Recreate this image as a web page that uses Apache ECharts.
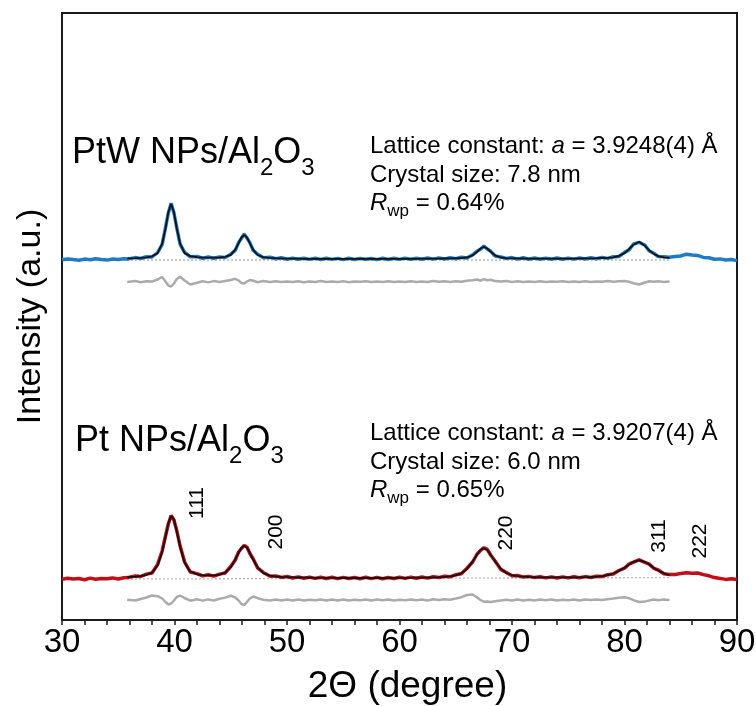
<!DOCTYPE html>
<html>
<head>
<meta charset="utf-8">
<script src="https://cdn.jsdelivr.net/npm/echarts@6/dist/echarts.min.js"></script>
<style>
  html, body { margin: 0; padding: 0; background: #fff; }
  #chart { width: 756px; height: 706px; }
</style>
</head>
<body>
<div id="chart"></div>
<script>
var FONT = 'Liberation Sans, Arial, sans-serif';

// 2theta grid (degree), shared by every pattern
var twoTheta = [30, 30.5, 31, 31.5, 32, 32.5, 33, 33.5, 34, 34.5, 35, 35.5, 35.8, 36.5, 37, 37.5, 38, 38.5,
  38.9, 39.2, 39.45, 39.7, 39.95, 40.2, 40.5, 40.9, 41.4, 42,
  42.5, 43, 43.5, 44, 44.5, 45,
  45.4, 45.7, 45.95, 46.2, 46.45, 46.7, 47, 47.4, 47.9, 48.5,
  49, 49.5, 50, 50.5, 51, 51.5, 52, 52.5, 53, 53.5, 54, 54.5, 55, 55.5, 56, 56.5, 57, 57.5, 58, 58.5,
  59, 59.5, 60, 60.5, 61, 61.5, 62, 62.5, 63, 63.5, 64, 64.5, 65, 65.5, 66, 66.5,
  66.9, 67.2, 67.5, 67.8, 68.1, 68.5, 69,
  69.5, 70, 70.5, 71, 71.5, 72, 72.5, 73, 73.5, 74, 74.5, 75, 75.5, 76, 76.5, 77, 77.5, 78, 78.5, 79, 79.5,
  80, 80.4, 80.8, 81.3, 81.8, 82.2, 82.6, 83, 83.5, 84,
  84.5, 85, 85.5, 86, 86.5, 87, 87.5, 88, 88.5, 89, 89.5, 90];

// PtW NPs/Al2O3 (upper pattern, offset)
var ptwObs = [360.2, 361.1, 360.4, 359.8, 360.9, 360.3, 361.2, 360.5, 359.9, 361.0, 360.6, 361.3, 360.9, 362.4, 361.5, 363.2, 363.0, 367.5,
  375.4, 392.3, 406.9, 416.8, 407.0, 392.4, 375.6, 367.6, 363.2, 363.5,
  361.8, 363.0, 361.7, 363.1, 362.6, 365.8,
  369.6, 377.5, 381.8, 385.9, 381.7, 377.4, 369.5, 365.7, 362.2, 362.8,
  361.2, 362.3, 360.8, 361.9, 360.7, 361.8, 360.6, 361.7, 360.5, 361.8, 360.6, 361.6, 360.4, 361.7, 360.5, 361.6, 360.7, 361.5,
  360.4, 361.8, 360.5, 361.7, 360.6, 361.9, 360.7, 361.8, 360.8, 362.0, 360.9, 362.1, 361.0, 362.2, 361.3, 362.7, 362.0, 365.2,
  368.9, 370.8, 373.9, 371.0, 368.9, 364.0, 363.1,
  361.5, 362.4, 360.9, 362.2, 360.8, 362.0, 360.7, 361.9, 360.8, 362.0, 360.7, 361.9, 360.9, 362.1, 361.0, 362.3, 361.2, 362.6, 361.6, 363.2, 363.5,
  367.6, 370.1, 376.0, 377.6, 375.0, 369.0, 366.8, 363.4, 363.2, 362.8,
  363.6, 364.0, 365.8, 364.9, 364.6, 362.6, 362.3, 360.8, 361.1, 360.0, 360.5, 359.4];

var ptwFit = [null, null, null, null, null, null, null, null, null, null, null, null, 361.6, 361.8, 362.1, 362.7, 363.7, 366.8,
  376.3, 391.5, 407.8, 416.0, 407.9, 391.6, 376.4, 366.9, 363.9, 362.8,
  362.4, 362.3, 362.3, 362.5, 363.1, 365.1,
  370.3, 376.8, 382.5, 385.2, 382.4, 376.7, 370.2, 365.0, 362.9, 362.1,
  361.8, 361.6, 361.4, 361.3, 361.3, 361.2, 361.2, 361.2, 361.1, 361.1, 361.1, 361.1, 361.1, 361.1, 361.1, 361.1, 361.1, 361.1,
  361.1, 361.1, 361.1, 361.1, 361.1, 361.2, 361.2, 361.2, 361.3, 361.3, 361.4, 361.4, 361.5, 361.6, 361.8, 362.0, 362.5, 364.6,
  368.2, 371.5, 373.2, 371.5, 368.2, 364.6, 362.5,
  361.9, 361.7, 361.6, 361.5, 361.4, 361.4, 361.3, 361.3, 361.3, 361.3, 361.3, 361.4, 361.4, 361.5, 361.6, 361.7, 361.8, 362.0, 362.2, 362.7, 364.0,
  366.9, 370.8, 375.3, 378.2, 374.3, 369.7, 366.1, 363.9, 362.6, 362.1,
  null, null, null, null, null, null, null, null, null, null, null, null];

var ptwDiff = [null, null, null, null, null, null, null, null, null, null, null, null, 338.0, 338.9, 337.8, 338.7, 338.4, 340.5,
  343.0, 338.5, 334.5, 333.5, 336.5, 341.0, 343.2, 339.5, 335.5, 337.2,
  338.8, 337.6, 338.9, 338.0, 339.0, 340.0,
  341.2, 339.5, 337.0, 336.5, 338.5, 340.0, 339.2, 337.8, 338.9, 338.1,
  338.7, 337.9, 338.6, 338.0, 338.8, 337.8, 338.5, 338.1, 338.9, 337.9, 338.6, 338.0, 338.7, 337.8, 338.5, 338.2, 338.8, 337.9,
  338.6, 338.0, 338.7, 337.9, 338.5, 338.1, 338.8, 338.0, 338.6, 337.9, 338.9, 338.2, 338.7, 338.0, 338.8, 338.3, 339.2, 339.8,
  340.5, 339.3, 340.8, 339.7, 340.2, 338.9, 338.4,
  338.9, 338.0, 338.7, 337.9, 338.6, 338.1, 338.8, 337.9, 338.5, 338.2, 338.7, 337.9, 338.6, 338.1, 338.8, 338.0, 338.6, 338.2, 338.9, 338.3, 338.7,
  339.0, 338.3, 336.8, 335.5, 337.5, 338.8, 338.2, 338.7, 337.9, 338.4,
  null, null, null, null, null, null, null, null, null, null, null, null];

// Pt NPs/Al2O3 (lower pattern)
var ptObs = [40.6, 41.8, 40.9, 41.5, 40.3, 41.9, 40.8, 41.6, 41.2, 42.1, 41.0, 42.3, 42.4, 44.0, 43.5, 45.9, 47.0, 55.6,
  69.0, 84.0, 96.0, 104.5, 100.0, 89.5, 74.0, 58.0, 48.0, 46.4,
  44.1, 45.3, 43.9, 45.9, 47.0, 53.5,
  60.0, 68.0, 71.5, 74.6, 72.8, 66.5, 61.0, 51.8, 47.6, 43.8,
  44.1, 42.6, 43.5, 42.0, 43.1, 41.8, 42.9, 41.6, 42.8, 41.5, 42.7, 41.4, 42.6, 41.5, 42.5, 41.3, 42.7, 41.4,
  42.6, 41.3, 42.5, 41.5, 42.7, 41.6, 42.9, 41.7, 43.0, 41.9, 43.3, 42.4, 43.8, 43.2, 45.3, 46.3, 51.8, 58.0,
  66.0, 69.5, 72.3, 70.6, 65.0, 59.0, 50.6,
  47.5, 44.3, 44.5, 42.9, 43.6, 42.4, 43.2, 42.1, 43.1, 42.0, 43.1, 42.1, 43.2, 42.2, 43.4, 42.5, 43.8, 43.4, 45.3, 46.0, 49.5,
  51.8, 55.9, 57.8, 60.2, 57.7, 55.9, 51.7, 50.0, 46.2, 45.4,
  45.6, 46.4, 47.3, 46.8, 47.0, 45.4, 44.2, 42.4, 41.6, 40.6, 41.2, 40.5];

var ptFit = [null, null, null, null, null, null, null, null, null, null, null, null, 42.9, 43.4, 44.0, 45.1, 47.3, 54.5,
  67.9, 83.0, 96.6, 104.0, 100.5, 88.7, 73.0, 57.2, 48.6, 45.6,
  44.8, 44.6, 44.6, 45.4, 47.4, 52.8,
  60.5, 67.3, 72.2, 74.2, 72.1, 67.2, 60.2, 52.5, 46.9, 44.3,
  43.5, 43.1, 42.9, 42.6, 42.5, 42.4, 42.3, 42.2, 42.2, 42.1, 42.1, 42.1, 42.0, 42.0, 42.0, 42.0, 42.0, 42.0,
  42.0, 42.0, 42.0, 42.1, 42.1, 42.2, 42.2, 42.3, 42.4, 42.5, 42.7, 42.9, 43.2, 43.7, 44.7, 46.8, 51.1, 58.5,
  65.5, 70.0, 71.8, 70.0, 65.5, 58.5, 51.2,
  47.0, 44.9, 43.9, 43.4, 43.1, 42.9, 42.7, 42.7, 42.6, 42.6, 42.6, 42.6, 42.7, 42.7, 42.9, 43.0, 43.3, 43.9, 44.8, 46.5, 49.0,
  52.2, 55.4, 58.2, 59.8, 58.2, 55.4, 52.2, 49.5, 46.7, 44.9,
  null, null, null, null, null, null, null, null, null, null, null, null];

var ptDiff = [null, null, null, null, null, null, null, null, null, null, null, null, 20.3, 19.5, 21.0, 22.5, 24.5, 23.8,
  21.5, 18.0, 15.5, 16.5, 19.5, 23.0, 24.3, 22.0, 19.3, 20.8,
  19.4, 20.6, 19.5, 21.2, 22.4, 24.3,
  22.5, 19.5, 16.0, 15.0, 18.2, 21.5, 23.5, 21.8, 20.2, 19.6,
  20.6, 19.5, 20.4, 19.6, 20.5, 19.4, 20.3, 19.7, 20.6, 19.5, 20.4, 19.6, 20.5, 19.4, 20.3, 19.8, 20.6, 19.5,
  20.4, 19.7, 20.5, 19.6, 20.3, 19.8, 20.6, 19.7, 20.5, 19.6, 20.7, 19.9, 20.8, 20.3, 21.5, 22.8, 25.0, 25.5,
  22.5, 20.0, 18.3, 18.5, 18.0, 18.8, 19.5,
  20.2, 19.4, 20.5, 19.6, 20.3, 19.5, 20.4, 19.7, 20.6, 19.5, 20.3, 19.8, 20.5, 19.6, 20.4, 19.9, 20.6, 20.0, 20.8, 21.4, 22.3,
  22.7, 21.8, 19.9, 18.0, 18.4, 19.6, 20.5, 19.8, 20.6, 19.9,
  null, null, null, null, null, null, null, null, null, null, null, null];

// refined backgrounds (dotted)
var bgAngle = [35.8, 84];
var ptwBg = [360, 360];
var ptBg = [41, 42.4];

// reflection labels
var hklLabels = ['111', '200', '220', '311', '222'];
var hklAngle = [42.0, 49.0, 69.5, 83.1, 86.7];
var hklHeight = [117, 88, 87, 84, 79];

// refinement results
var sampleNames = ['PtW NPs/Al', 'Pt NPs/Al'];
var latticeConst = ['3.9248(4)', '3.9207(4)'];
var crystalSize = ['7.8', '6.0'];
var rwpValues = ['0.64', '0.65'];

function pairs(xs, ys) {
  var out = [];
  for (var i = 0; i < xs.length; i++) {
    if (ys[i] != null) out.push([xs[i], ys[i]]);
  }
  return out;
}

function lineSeries(data, color, width, type, z) {
  return {
    type: 'line',
    data: data,
    showSymbol: false,
    symbol: 'none',
    silent: true,
    z: z,
    lineStyle: { color: color, width: width, type: type || 'solid' }
  };
}

var subRich = {
  m: { fontSize: 36, fontFamily: FONT, fill: '#000', color: '#000', padding: [0, 0, 9, 0], verticalAlign: 'bottom' },
  s: { fontSize: 24, fontFamily: FONT, fill: '#000', color: '#000', verticalAlign: 'bottom' }
};
var annRich = {
  t: { fontSize: 24, fontFamily: FONT, fill: '#000', color: '#000', padding: [0, 0, 5, 0], verticalAlign: 'bottom' },
  i: { fontSize: 24, fontFamily: FONT, fontStyle: 'italic', fill: '#000', color: '#000', padding: [0, 0, 5, 0], verticalAlign: 'bottom' },
  w: { fontSize: 17, fontFamily: FONT, fill: '#000', color: '#000', verticalAlign: 'bottom' }
};

function textEl(text, rich, left, top) {
  return { type: 'text', left: left, top: top, silent: true, z: 10, style: { text: text, rich: rich } };
}

var graphics = [];
var blockTop = [135, 423];
var annTop = [134, 421];
for (var k = 0; k < 2; k++) {
  graphics.push(textEl('{m|' + sampleNames[k] + '}{s|2}{m|O}{s|3}', subRich, k === 0 ? 72 : 75, blockTop[k]));
  graphics.push(textEl('{t|Lattice constant: }{i|a}{t| = ' + latticeConst[k] + ' Å}', annRich, 370, annTop[k]));
  graphics.push(textEl('{t|Crystal size: ' + crystalSize[k] + ' nm}', annRich, 370, annTop[k] + 29));
  graphics.push(textEl('{i|R}{w|wp}{t| = ' + rwpValues[k] + '%}', annRich, 370, annTop[k] + 57));
}

var chart = echarts.init(document.getElementById('chart'), null, { renderer: 'canvas' });
chart.setOption({
  animation: false,
  backgroundColor: '#fff',
  grid: {
    left: 62, right: 19, top: 13, bottom: 86, show: true, borderColor: '#1a1a1a', borderWidth: 2,
    containLabel: false, outerBoundsMode: 'none'
  },
  xAxis: {
    type: 'value', min: 30, max: 90, interval: 10,
    axisLine: { show: true, lineStyle: { color: '#1a1a1a', width: 2 } },
    axisTick: { show: true, inside: false, length: 5, lineStyle: { color: '#1a1a1a', width: 1.5 } },
    minorTick: { show: true, splitNumber: 5, length: 5, lineStyle: { color: '#1a1a1a', width: 1.5 } },
    splitLine: { show: false },
    axisLabel: { fontSize: 33, color: '#000', margin: 6, fontFamily: FONT },
    name: '2Θ (degree)', nameLocation: 'middle', nameGap: 48,
    nameTextStyle: { fontSize: 37, color: '#000', fontFamily: FONT, padding: [0, 0, 0, 16] }
  },
  yAxis: {
    type: 'value', min: 0, max: 607,
    axisLine: { show: false }, axisTick: { show: false }, axisLabel: { show: false }, splitLine: { show: false },
    name: 'Intensity (a.u.)', nameLocation: 'middle', nameGap: 14,
    nameTextStyle: { fontSize: 34, color: '#000', fontFamily: FONT }
  },
  graphic: graphics,
  series: [
    lineSeries(pairs(bgAngle, ptwBg), '#a0a0a0', 1.3, [1.5, 2.5], 1),
    lineSeries(pairs(bgAngle, ptBg), '#a0a0a0', 1.3, [1.5, 2.5], 1),
    lineSeries(pairs(twoTheta, ptwObs), '#1e7bc8', 3.5, 'solid', 2),
    lineSeries(pairs(twoTheta, ptObs), '#c40d17', 3.5, 'solid', 2),
    lineSeries(pairs(twoTheta, ptwFit), '#111111', 1.8, 'solid', 3),
    lineSeries(pairs(twoTheta, ptFit), '#111111', 1.8, 'solid', 3),
    lineSeries(pairs(twoTheta, ptwDiff), '#ababab', 2.5, 'solid', 2),
    lineSeries(pairs(twoTheta, ptDiff), '#ababab', 2.5, 'solid', 2),
    {
      type: 'scatter',
      silent: true,
      z: 6,
      symbolSize: 2,
      itemStyle: { color: 'rgba(255,255,255,0)' },
      data: hklAngle.map(function (x, i) { return [x, hklHeight[i], hklLabels[i]]; }),
      label: {
        show: true, position: 'inside', rotate: 90, opacity: 1,
        formatter: function (p) { return p.data[2]; },
        fontSize: 21, color: '#000', textBorderWidth: 0, textBorderColor: 'transparent',
        fontFamily: FONT
      }
    }
  ]
});
</script>
</body>
</html>
